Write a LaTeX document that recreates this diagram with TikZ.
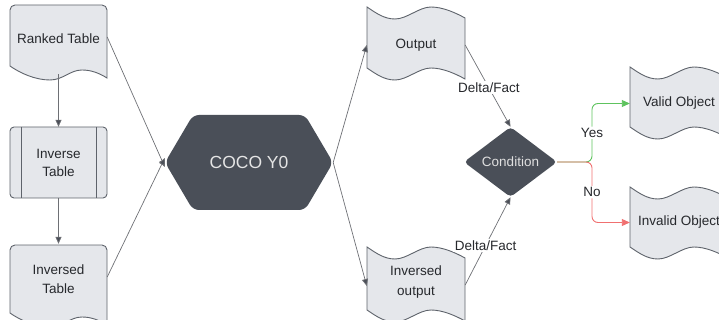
\documentclass[tikz,border=0pt]{standalone}
\usepackage{fontspec}
\setmainfont{Liberation Sans}
\usetikzlibrary{arrows.meta}

\definecolor{paperfill}{HTML}{E5E7EB}
\definecolor{edgegray}{HTML}{5E636B}
\definecolor{darkfill}{HTML}{4A4F58}
\definecolor{wiregray}{HTML}{6E7075}
\definecolor{tipgray}{HTML}{4B4F58}
\definecolor{inkgray}{HTML}{26282C}
\definecolor{yesgreen}{HTML}{5EC35E}
\definecolor{nored}{HTML}{F07070}

\tikzset{
  shapeline/.style={draw=edgegray, fill=paperfill, line width=0.9pt},
  darkshape/.style={fill=darkfill, draw=none},
  box/.style={minimum width=#1, inner sep=0pt, align=center, font=\fontsize{13.5}{16}\selectfont, text=inkgray},
  box/.default=97pt,
  wire/.style={draw=wiregray, line width=0.7pt, -{Triangle[length=7pt,width=6pt,fill=tipgray]}},
  lbl/.style={fill=white, inner sep=1.5pt, font=\fontsize{13.5}{16}\selectfont, text=inkgray},
}

% tape: wavy top and bottom edges; args x0, ytop, height at left edge (width 98)
\newcommand\tapeshape[3]{%
  \begin{scope}[shift={(#1,#2)}]
  \filldraw[shapeline]
    (0,0) .. controls (9,6) and (17,12) .. (28,12)
          .. controls (40,12) and (52,0) .. (64,0)
          .. controls (76,0) and (89,6) .. (98,11)
    -- (98,#3+11)
          .. controls (89,#3+6) and (76,#3) .. (64,#3)
          .. controls (52,#3) and (40,#3+12) .. (28,#3+12)
          .. controls (17,#3+12) and (9,#3+6) .. (0,#3)
    -- cycle;
  \end{scope}}
% document: rounded top, wavy bottom; args x0, ytop, height at left edge (width 97)
\newcommand\docshape[3]{%
  \begin{scope}[shift={(#1,#2)}]
  \filldraw[shapeline] (0,#3) [rounded corners=5] -- (0,0) -- (97,0) [sharp corners]
    -- (97,#3+12)
          .. controls (89,#3+7) and (81,#3+4) .. (72,#3+4)
          .. controls (60,#3+4) and (53,#3+14) .. (40,#3+14)
          .. controls (25,#3+14) and (10,#3+7) .. (0,#3)
    -- cycle;
  \end{scope}}

\begin{document}
\begin{tikzpicture}[x=1pt, y=-1pt]
\useasboundingbox (0,0) rectangle (719,320);
\clip (0,0) rectangle (719,320);

% ---- shapes ----
\docshape{10}{5}{61}
\filldraw[shapeline, rounded corners=4] (10,127) rectangle (107,198);
\draw[edgegray, line width=0.9pt] (21,127) -- (21,198) (96,127) -- (96,198);
\docshape{10}{245}{68}

\filldraw[darkshape, rounded corners=6]
  (165,162.5) -- (193,115) -- (305,115) -- (333,162.5) -- (305,210) -- (193,210) -- cycle;

\tapeshape{367}{7}{61}
\tapeshape{367}{247}{63}

\filldraw[darkshape, rounded corners=4]
  (464,162) -- (510.5,127) -- (557,162) -- (510.5,197) -- cycle;

\tapeshape{630}{67}{60}
\tapeshape{630}{187}{60}

% ---- nodes ----
\node[box, minimum height=70pt] (rt) at (58.5,39) {Ranked Table};
\node[box, minimum height=71pt] (it) at (58.5,162.5) {Inverse\\[2pt]Table};
\node[box, minimum height=70pt] (ist) at (58.5,279) {Inversed\\[3pt]Table};
\node[box=168pt, minimum height=95pt, text=white!90!black,
      font=\fontsize{17.5}{20}\selectfont] (hx) at (249,162.5) {COCO Y0};
\node[box=98pt, minimum height=70pt] (op) at (416,45) {Output};
\node[box=98pt, minimum height=70pt] (iop) at (416,282) {Inversed\\[4pt]output};
\node[box=93pt, minimum height=70pt, text=white!88!black] (cond) at (510.5,162) {Condition};
\node[box=98pt, minimum height=60pt] (vo) at (679,103.5) {Valid Object};
\node[box=98pt, minimum height=60pt] (io) at (679,222.5) {Invalid Object};
\coordinate (split) at (592,162);

% ---- connectors ----
\draw[wire] (rt.south) -- (it.north);
\draw[wire] (it.south) -- (ist.north);
\draw[wire] ([yshift=2pt]rt.east) -- ([yshift=-4.5pt]hx.west);
\draw[wire] ([yshift=2pt]ist.east) -- ([yshift=4.5pt]hx.west);
\draw[wire] (hx.east) -- (op.west);
\draw[wire] (hx.east) -- ([yshift=-4pt]iop.west);
\draw[wire] (op.east) -- node[lbl, pos=0.52] {Delta/Fact} (cond.north);
\draw[wire] ([yshift=-3pt]iop.east) -- node[lbl, pos=0.45] {Delta/Fact} (cond.south);

\draw[draw=yesgreen, line width=0.9pt, rounded corners=6,
      -{Triangle[length=8pt,width=7pt]}]
  (cond.east) -- (split) |- node[lbl, pos=0.25] {Yes} (vo.west);
\draw[draw=nored, line width=0.9pt, rounded corners=6,
      -{Triangle[length=8pt,width=7pt]}]
  (cond.east) -- (split) |- node[lbl, pos=0.25] {No} (io.west);
\end{tikzpicture}
\end{document}
